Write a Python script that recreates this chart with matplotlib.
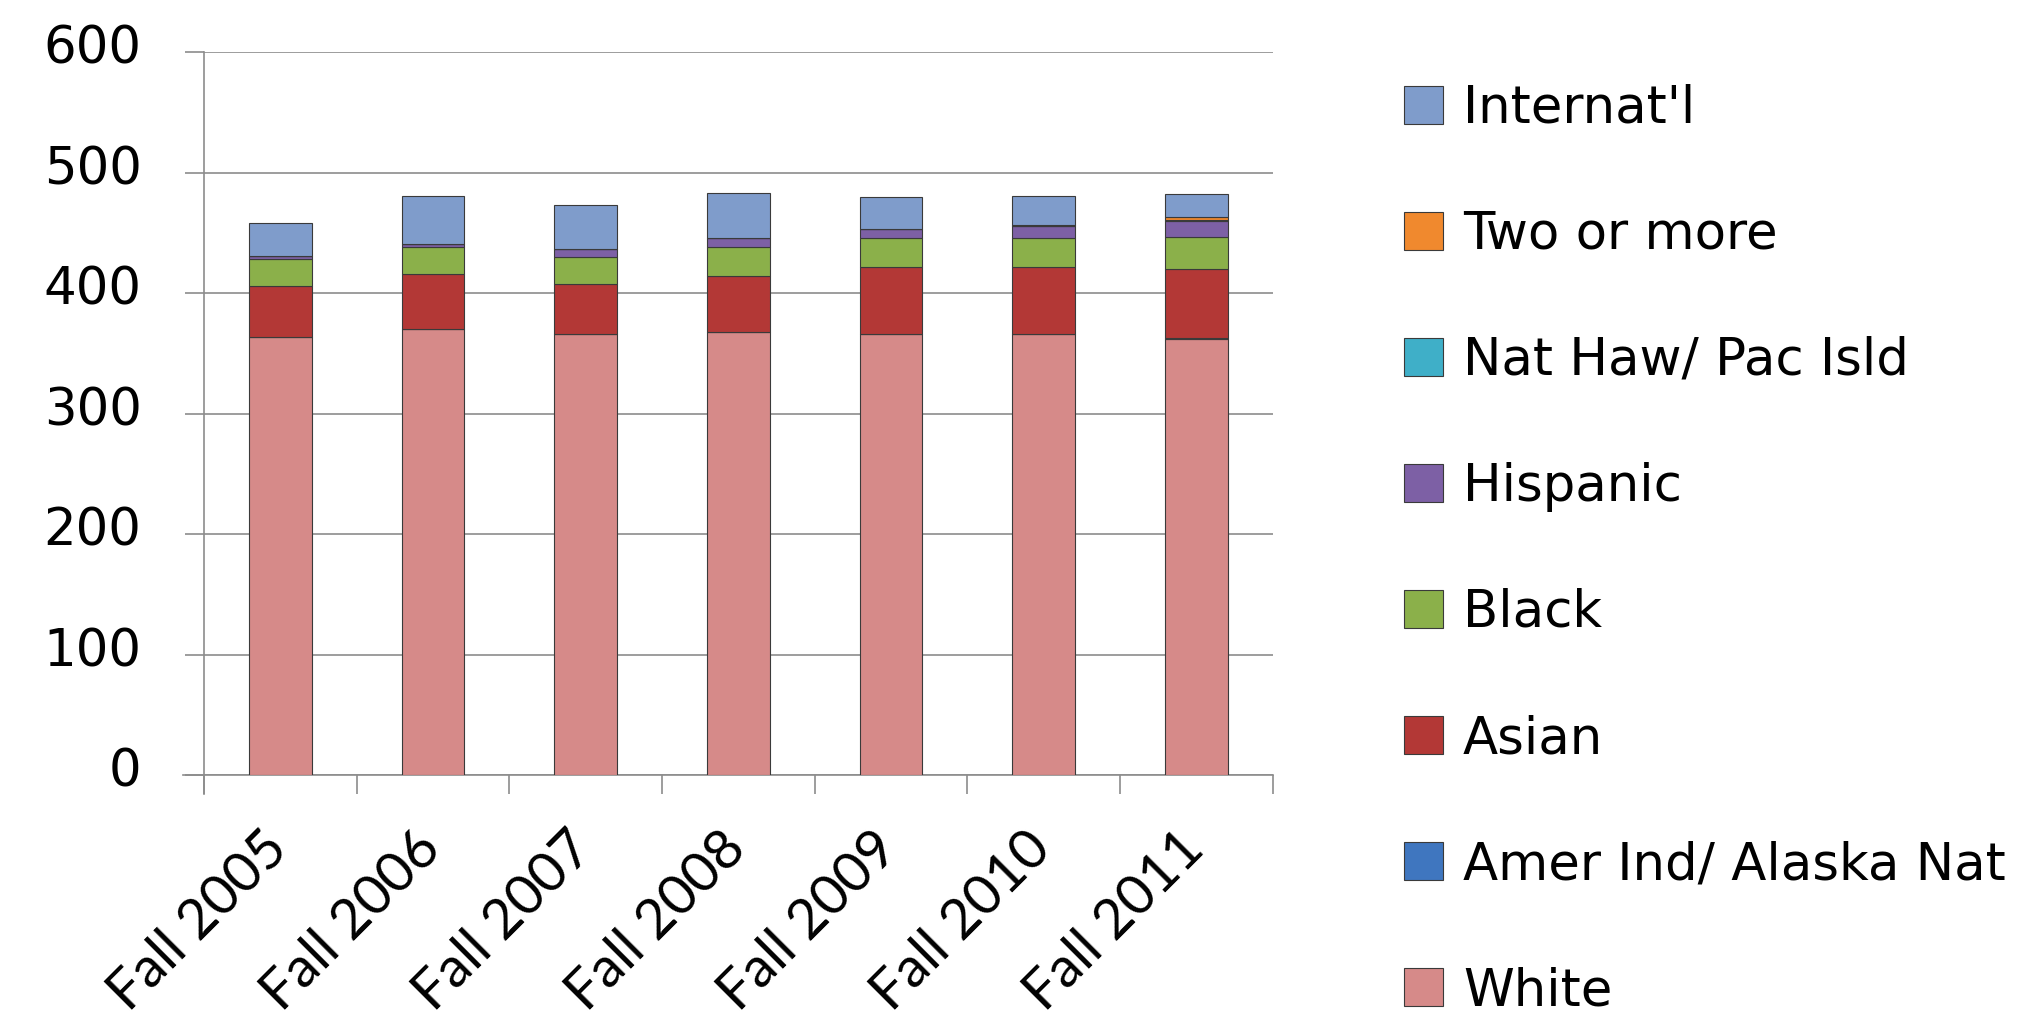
import matplotlib
matplotlib.use("Agg")
import matplotlib.pyplot as plt
import matplotlib.transforms as mtransforms
import numpy as np

# %% data (students per category, stacked bottom -> top)
years = ["Fall 2005", "Fall 2006", "Fall 2007", "Fall 2008", "Fall 2009", "Fall 2010", "Fall 2011"]

white       = [364, 370, 366, 368, 366, 366, 362]
amer_ind    = [0, 0, 0, 0, 0, 0, 1]
asian       = [42, 46, 42, 46, 56, 56, 57]
black       = [22, 22, 22, 24, 24, 24, 27]
hispanic    = [3, 3, 7, 8, 7, 10, 13]
nat_haw     = [0, 0, 0, 0, 0, 0, 1]
two_or_more = [0, 0, 0, 0, 0, 1, 2]
internatl   = [27, 40, 36, 37, 27, 24, 19]

series_names = ["White", "Amer Ind/ Alaska Nat", "Asian", "Black", "Hispanic",
                "Nat Haw/ Pac Isld", "Two or more", "Internat'l"]
series_vals = [white, amer_ind, asian, black, hispanic, nat_haw, two_or_more, internatl]
series_colors = ["#D68A89", "#3F76BF", "#B33836", "#8BB04A", "#7D60A5",
                 "#3FAFC8", "#F0892E", "#7F9CCB"]

# %% plot
fig = plt.figure(figsize=(20.2, 10.33), dpi=100)
ax = fig.add_axes([0.101, 0.2498, 0.529, 0.6996])

x = np.arange(len(years))
bottom = np.zeros(len(years))
handles = []
for name, vals, col in zip(series_names, series_vals, series_colors):
    vals = np.array(vals, dtype=float)
    bars = ax.bar(x, vals, width=0.41, bottom=bottom, color=col,
                  edgecolor="#3a3a3a", linewidth=0.8, zorder=3, label=name)
    handles.append(bars)
    bottom += vals

grid_col = "#8C8C8C"
ax.set_ylim(0, 600)
ax.set_xlim(-0.5, 6.5)
ax.set_yticks(range(0, 601, 100))
ax.yaxis.grid(True, color=grid_col, linewidth=1.2, zorder=0)
ax.set_axisbelow(True)

for s in ["top", "right", "bottom"]:
    ax.spines[s].set_visible(False)
ax.spines["left"].set_color(grid_col)
ax.spines["left"].set_linewidth(1.2)
ax.spines["left"].set_bounds(-16, 600)

ax.tick_params(axis="y", length=14, width=1.2, color=grid_col, labelsize=37, pad=31)
ax.set_xticks(x)
ax.set_xticklabels(years, rotation=45, ha="right", fontsize=40, family="Lato")
ax.tick_params(axis="x", which="major", length=0, pad=34)
ax.set_xticks(np.arange(-0.5, 7.0, 1.0), minor=True)
ax.tick_params(axis="x", which="minor", length=14, width=1.2, color=grid_col)
ax.axhline(0, color=grid_col, linewidth=1.2, zorder=1, xmin=-0.02, clip_on=False)

# nudge labels to sit like the original
x_off = mtransforms.ScaledTranslation(0.17, 0, fig.dpi_scale_trans)
for lbl in ax.get_xticklabels():
    lbl.set_transform(lbl.get_transform() + x_off)
y_off = mtransforms.ScaledTranslation(0, 0.08, fig.dpi_scale_trans)
for lbl in ax.get_yticklabels():
    lbl.set_transform(lbl.get_transform() + y_off)

leg = fig.legend(handles[::-1], series_names[::-1], loc="center left",
                 bbox_to_anchor=(0.695, 0.4676), frameon=False, fontsize=37,
                 handlelength=0.76, handleheight=0.76, handletextpad=0.39,
                 labelspacing=1.48, borderpad=0, borderaxespad=0)

fig.savefig("out.png", dpi=100)
